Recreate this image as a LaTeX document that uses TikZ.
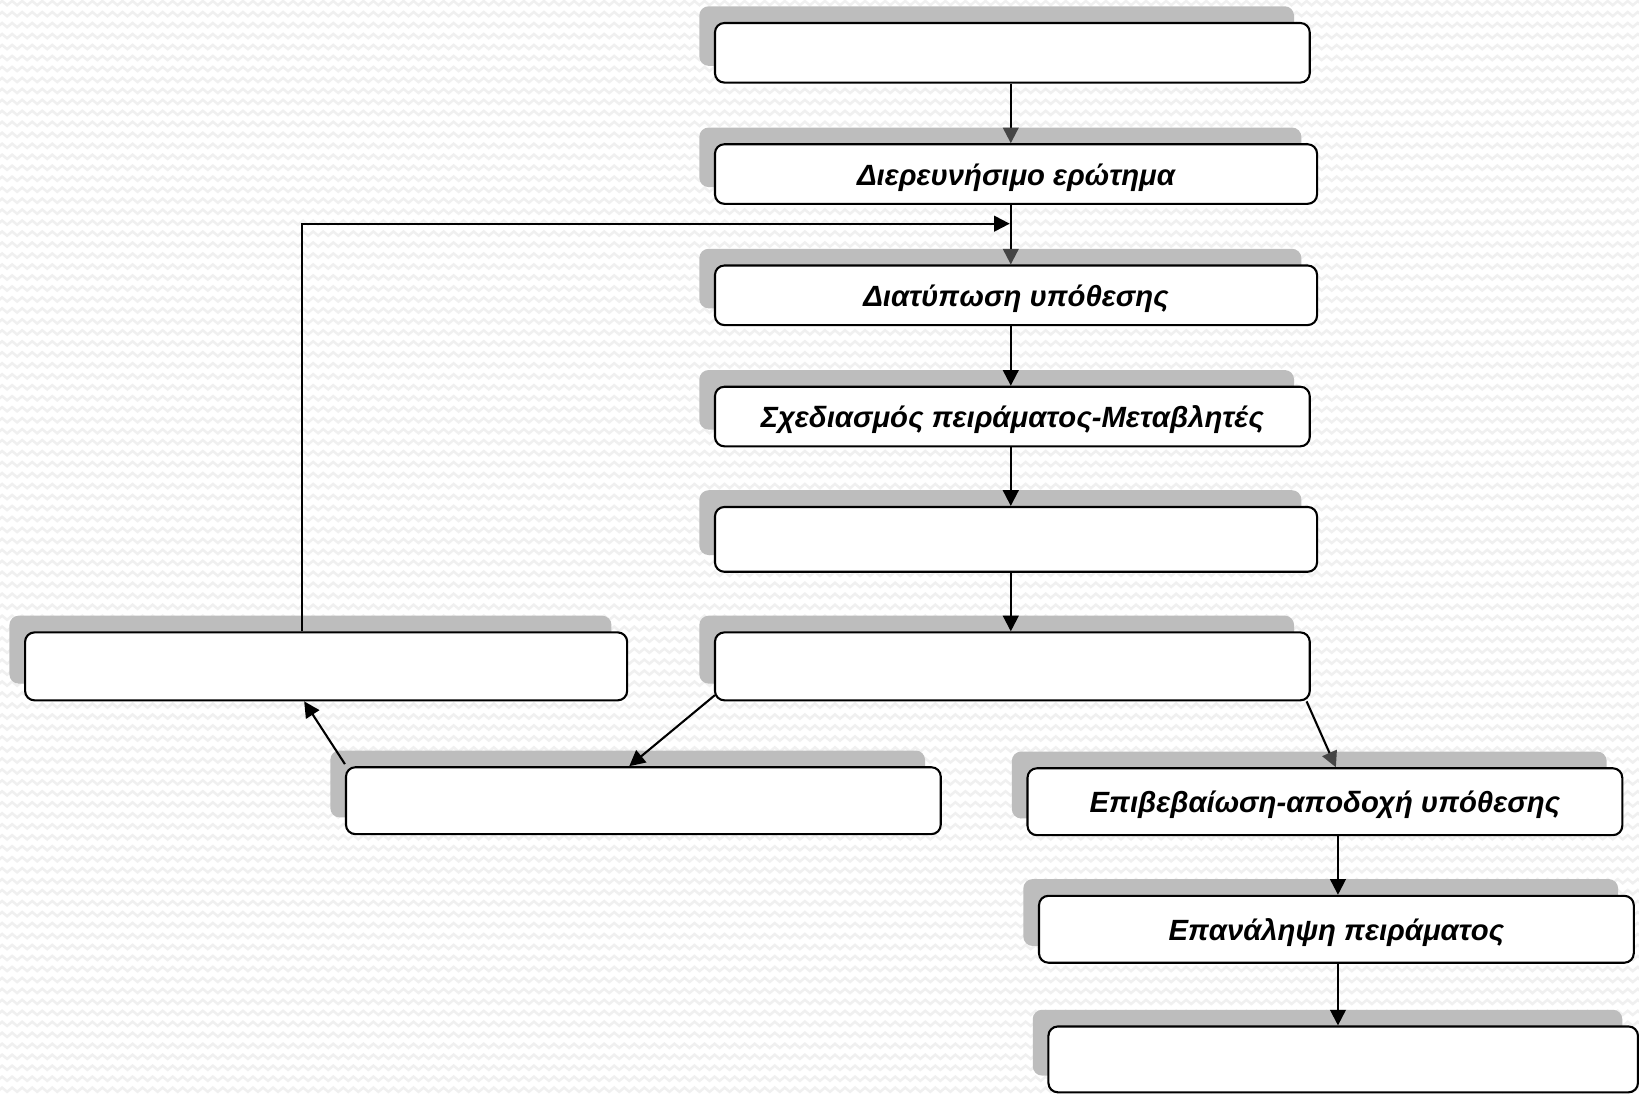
\documentclass[tikz,border=0pt]{standalone}
\usepackage{fontspec}
\setmainfont{Liberation Sans}
\usetikzlibrary{arrows.meta,shadows,decorations.pathmorphing,calc}
\definecolor{shadowgray}{HTML}{BDBDBD}
\definecolor{tipgray}{HTML}{454545}
\definecolor{zig}{HTML}{F0F0F0}
\tikzset{
  box/.style={draw=black, line width=1pt, fill=white, rounded corners=4.5pt,
    inner sep=0pt, text height=12pt, text depth=1.5pt,
    font=\fontsize{14}{16}\selectfont\bfseries\itshape,
    general shadow={fill=shadowgray, draw=none, shadow xshift=-7.5pt, shadow yshift=8pt}},
  arr/.style={line width=1pt, draw=black, -{Triangle[length=7.5pt,width=7.5pt]}},
  arrg/.style={line width=1pt, draw=black, -{Triangle[length=7.5pt,width=7.5pt,color=tipgray]}},
  bgzig/.style={draw=zig, line width=1.2pt, decorate,
    decoration={zigzag, segment length=4.8pt, amplitude=1pt}}
}
\begin{document}
\begin{tikzpicture}[x=0.5pt,y=-0.5pt]
\useasboundingbox (0,0) rectangle (1568,1048);
\fill[white] (0,0) rectangle (1568,1048);
\begin{scope}
\clip (0,0) rectangle (1568,1048);
\foreach \r in {0,...,100}{
  \draw[bgzig] (-10,\r*10.5+3) -- (1580,\r*10.5+3);
}
\end{scope}

\node[box, minimum width=284.5pt, minimum height=28.5pt] (b1) at (968.5,50.5) {};
\node[box, minimum width=288pt, minimum height=28.5pt] (b2) at (972,166.5) {Διερευνήσιμο ερώτημα};
\node[box, minimum width=288pt, minimum height=28.5pt] (b3) at (972,282.5) {Διατύπωση υπόθεσης};
\node[box, minimum width=284.5pt, minimum height=28.5pt] (b4) at (968.5,398.5) {Σχεδιασμός πειράματος-Μεταβλητές};
\node[box, minimum width=288pt, minimum height=31pt] (b5) at (972,516) {};
\node[box, minimum width=284.5pt, minimum height=32.5pt] (b6) at (968.5,637.5) {};
\node[box, minimum width=288pt, minimum height=32.5pt] (b7) at (312,637.5) {};
\node[box, minimum width=284.5pt, minimum height=32pt] (b8) at (615.5,766) {};
\node[box, minimum width=284.5pt, minimum height=32pt] (b9) at (1267.5,767) {Επιβεβαίωση-αποδοχή υπόθεσης};
\node[box, minimum width=284.5pt, minimum height=32pt] (b10) at (1278.5,889) {Επανάληψη πειράματος};
\node[box, minimum width=282pt, minimum height=31.5pt] (b11) at (1285,1013.5) {};

\coordinate (fb) at (966,214);

\draw[arrg] ([xshift=-0.75pt]b1.south) -- ([xshift=-0.75pt]b1.south |- b2.north);
\draw[arrg] ([xshift=-2.5pt]b2.south) -- ([xshift=-2.5pt]b2.south |- b3.north);
\draw[arr] ([xshift=-11.5pt]b7.north) |- (fb);
\draw[arr] ([xshift=-2.5pt]b3.south) -- ([xshift=-2.5pt]b3.south |- b4.north);
\draw[arr] ([xshift=-0.75pt]b4.south) -- ([xshift=-0.75pt]b4.south |- b5.north);
\draw[arr] ([xshift=-2.5pt]b5.south) -- ([xshift=-2.5pt]b5.south |- b6.north);
\draw[arr] ([shift={(0.5pt,3pt)}]b6.south west) -- ([xshift=-6.75pt]b8.north);
\draw[arr] ([shift={(0pt,1pt)}]b8.north west) -- ([xshift=-10.5pt]b7.south);
\draw[arrg] ([xshift=-2pt]b6.south east) -- ([xshift=5.25pt]b9.north);
\draw[arr] ([xshift=0.75pt]b10.north |- b9.south) -- ([xshift=0.75pt]b10.north);
\draw[arr] ([xshift=0.75pt]b10.south) -- ([xshift=0.75pt]b10.south |- b11.north);
\end{tikzpicture}
\end{document}
